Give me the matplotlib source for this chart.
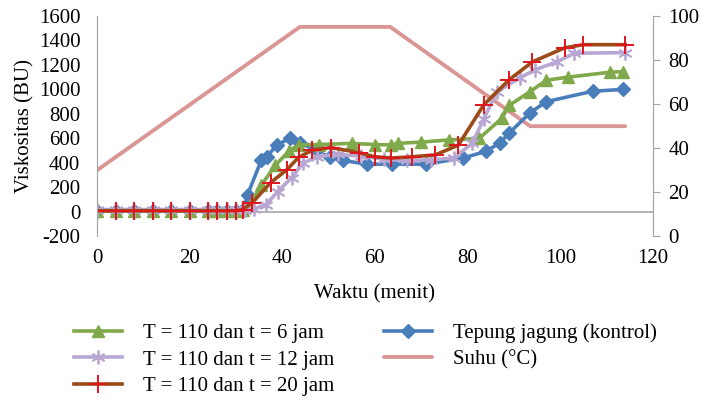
import matplotlib
matplotlib.use("Agg")
import matplotlib.pyplot as plt

plt.rcParams['font.family'] = ['Liberation Serif', 'DejaVu Serif']
plt.rcParams['axes.unicode_minus'] = False

# data
t_kontrol = [0, 4, 8, 12, 16, 20, 24, 26, 28, 30, 31.5, 32.5, 35.5, 36.7, 38.8, 41.7, 43.8,
             47, 50.3, 53, 58.3, 63.7, 71, 79, 84, 87, 89, 93.5, 97, 107, 113.5]
v_kontrol = [10, 10, 10, 10, 10, 10, 10, 10, 10, 10, 15, 140, 425, 450, 548, 600, 565,
             505, 445, 420, 390, 390, 390, 440, 495, 565, 645, 810, 900, 985, 1000]

t_6jam = [0, 4, 8, 12, 16, 20, 24, 26, 28, 30, 31.5, 33, 35.5, 38.5, 41.5, 43.5, 48, 55,
          60, 63.5, 65, 70, 76, 82.5, 87.4, 89, 93.4, 97, 101.7, 110.7, 113.5]
v_6jam = [10, 10, 10, 10, 10, 10, 10, 10, 10, 10, 20, 60, 220, 380, 500, 547, 550, 560,
          550, 547, 560, 570, 588, 600, 765, 870, 980, 1075, 1100, 1140, 1145]

t_12jam = [0, 4, 8, 12, 16, 20, 24, 26, 28, 30, 32, 34, 36.5, 39, 42, 44.5, 47.5, 52, 57,
           62, 67, 72, 77, 81, 83.5, 86.3, 91.3, 94.5, 99.3, 103, 114]
v_12jam = [20, 20, 20, 20, 20, 20, 20, 20, 20, 20, 20, 25, 60, 165, 280, 400, 450, 470, 455,
           430, 420, 425, 440, 560, 760, 980, 1095, 1160, 1225, 1295, 1300]

t_20jam = [0, 4, 8, 12, 16, 20, 24, 26, 28, 30, 31.5, 33.5, 37.5, 41, 43.5, 46.5, 50.5,
           56.5, 60, 63.5, 68, 73, 78, 83.5, 89, 94, 101, 105, 114]
v_20jam = [10, 10, 10, 10, 10, 10, 10, 10, 10, 10, 20, 75, 240, 345, 445, 505, 525,
           485, 450, 440, 450, 465, 545, 875, 1080, 1225, 1340, 1365, 1365]

t_suhu = [0, 43.8, 63.3, 93.5, 114]
v_suhu = [30, 95, 95, 50, 50]

x_ticks = [0, 20, 40, 60, 80, 100, 120]
y_ticks = [-200, 0, 200, 400, 600, 800, 1000, 1200, 1400, 1600]
y2_ticks = [0, 20, 40, 60, 80, 100]

grey = '#A6A6A6'

fig = plt.figure(figsize=(7.1, 4.07), dpi=100)
ax = fig.add_axes([0.1366, 0.419, 0.783, 0.542])
ax2 = ax.twinx()
ax.set_zorder(ax2.get_zorder() + 1)
ax.patch.set_visible(False)

# temperature on secondary axis (drawn below)
l_suhu, = ax2.plot(t_suhu, v_suhu, color='#D99694', lw=2.8, solid_capstyle='round')

l_kon, = ax.plot(t_kontrol, v_kontrol, color='#4A7EBB', lw=2.6, marker='D', ms=7,
                 mfc='#4A7EBB', mec='#4A7EBB')
l_6, = ax.plot(t_6jam, v_6jam, color='#80A94B', lw=2.6, marker='^', ms=9,
               mfc='#80A94B', mec='#80A94B')
l_12, = ax.plot(t_12jam, v_12jam, color='#B8A7D2', lw=2.6, marker=(6, 2, 0), ms=10,
                mec='#B8A7D2', mew=1.3)
l_20, = ax.plot(t_20jam, v_20jam, color='#9C4A16', lw=2.6, marker='+', ms=13,
                mec='#E0141E', mew=1.4)

ax.axhline(0, color=grey, lw=1.2, zorder=0.5)

ax.set_xlim(0, 120)
ax.set_ylim(-200, 1600)
ax2.set_ylim(0, 100)
ax.set_xticks(x_ticks)
ax.set_yticks(y_ticks)
ax2.set_yticks(y2_ticks)

for a in (ax, ax2):
    a.spines['top'].set_visible(False)
    a.spines['bottom'].set_visible(False)
    a.spines['left'].set_color(grey)
    a.spines['right'].set_color(grey)
ax.tick_params(axis='x', length=0, labelsize=15, pad=9)
ax.tick_params(axis='y', length=0, labelsize=15, pad=12)
ax2.tick_params(axis='y', length=5, color=grey, labelsize=15, pad=6)

ax.set_xlabel('Waktu (menit)', fontsize=15, labelpad=12)
ax.set_ylabel('Viskositas (BU)', fontsize=15, labelpad=3)

fig.legend([l_6, l_12, l_20, l_kon, l_suhu],
           ['T = 110 dan t = 6 jam', 'T = 110 dan t = 12 jam', 'T = 110 dan t = 20 jam',
            'Tepung jagung (kontrol)', 'Suhu (\u00b0C)'],
           ncol=2, loc='upper left', bbox_to_anchor=(0.093, 0.225), frameon=False,
           fontsize=15, handlelength=2.3, labelspacing=0.32, columnspacing=2.4,
           handletextpad=1.0, borderaxespad=0)

fig.savefig('out.png', dpi=100)
